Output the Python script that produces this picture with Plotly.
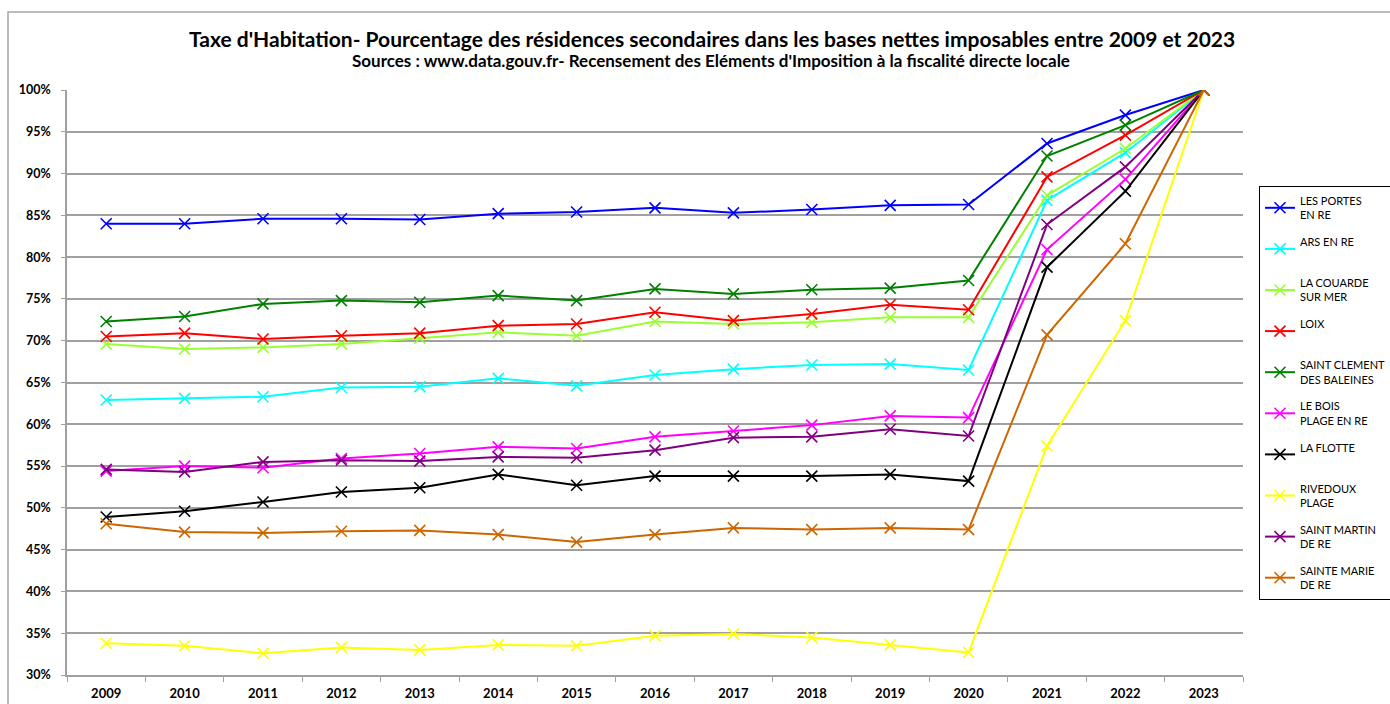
import plotly.graph_objects as go

years = [str(y) for y in range(2009, 2024)]

les_portes = [84.0, 84.0, 84.6, 84.6, 84.5, 85.2, 85.4, 85.9, 85.3, 85.7, 86.2, 86.3, 93.6, 97.0, 100.0]
ars_en_re = [62.9, 63.1, 63.3, 64.4, 64.5, 65.5, 64.6, 65.9, 66.6, 67.1, 67.2, 66.5, 86.8, 92.5, 100.0]
la_couarde = [69.6, 69.0, 69.2, 69.6, 70.3, 71.0, 70.6, 72.3, 72.0, 72.2, 72.8, 72.8, 87.4, 93.0, 100.0]
loix = [70.5, 70.9, 70.2, 70.6, 70.9, 71.8, 72.0, 73.4, 72.4, 73.2, 74.3, 73.7, 89.6, 94.6, 100.0]
saint_clement = [72.3, 72.9, 74.4, 74.8, 74.6, 75.4, 74.8, 76.2, 75.6, 76.1, 76.3, 77.2, 92.1, 95.8, 100.0]
le_bois = [54.4, 55.0, 54.8, 55.9, 56.5, 57.3, 57.1, 58.5, 59.2, 59.9, 61.0, 60.8, 80.9, 89.3, 100.0]
la_flotte = [48.9, 49.6, 50.7, 51.9, 52.4, 54.0, 52.7, 53.8, 53.8, 53.8, 54.0, 53.2, 78.8, 87.9, 100.0]
rivedoux = [33.8, 33.5, 32.6, 33.3, 33.0, 33.6, 33.5, 34.7, 34.9, 34.5, 33.6, 32.7, 57.4, 72.4, 100.0]
saint_martin = [54.6, 54.3, 55.5, 55.7, 55.6, 56.1, 56.0, 56.9, 58.4, 58.5, 59.4, 58.6, 83.9, 90.8, 100.0]
sainte_marie = [48.1, 47.1, 47.0, 47.2, 47.3, 46.8, 45.9, 46.8, 47.6, 47.4, 47.6, 47.4, 70.7, 81.6, 100.0]

series_names = [
    "LES PORTES<br>EN RE", "ARS EN RE<br> ", "LA COUARDE<br>SUR MER", "LOIX<br> ",
    "SAINT CLEMENT<br>DES BALEINES", "LE BOIS<br>PLAGE EN RE", "LA FLOTTE<br> ",
    "RIVEDOUX<br>PLAGE", "SAINT MARTIN<br>DE RE", "SAINTE MARIE<br>DE RE",
]
series_values = [les_portes, ars_en_re, la_couarde, loix, saint_clement,
                 le_bois, la_flotte, rivedoux, saint_martin, sainte_marie]
series_colors = ["#0000FF", "#00FFFF", "#99FF33", "#FF0000", "#008000",
                 "#FF00FF", "#000000", "#FFFF00", "#800080", "#CC6600"]

y_ticks = list(range(30, 101, 5))

fig = go.Figure()
for i, (name, vals, col) in enumerate(zip(series_names, series_values, series_colors)):
    fig.add_trace(go.Scatter(
        x=years, y=vals, name=name, mode="lines+markers",
        line=dict(color=col, width=2),
        marker=dict(symbol="x-thin", size=11, line=dict(color=col, width=1.6)),
        legendgroup=f"g{i}",
    ))

L, R, T, B = 67, 1243, 90, 675
PW, PH = R - L, B - T


def px(x):
    return (x - L) / PW


def py(y):
    return (B - y) / PH


FONT = "Lato, 'Open Sans', sans-serif"
fig.update_layout(
    width=1390, height=704,
    margin=dict(l=L, r=1390 - R, t=T, b=704 - B, autoexpand=False),
    paper_bgcolor="white", plot_bgcolor="white",
    font=dict(family=FONT, color="black"),
    showlegend=True,
    legend=dict(
        x=px(1259), xanchor="left", y=py(186), yanchor="top",
        bordercolor="black", borderwidth=1,
        font=dict(size=11, family=FONT),
        tracegroupgap=9.5, itemwidth=30,
        bgcolor="white",
    ),
    annotations=[
        dict(text="<b>Taxe d'Habitation- Pourcentage des résidences secondaires dans les bases nettes imposables entre 2009 et 2023</b>",
             xref="paper", yref="paper", x=px(712), y=py(38),
             xanchor="center", yanchor="middle", showarrow=False,
             font=dict(size=21, family=FONT)),
        dict(text="<b>Sources : www.data.gouv.fr- Recensement des Eléments d'Imposition à la fiscalité directe locale</b>",
             xref="paper", yref="paper", x=px(711), y=py(61),
             xanchor="center", yanchor="middle", showarrow=False,
             font=dict(size=17, family=FONT)),
    ],
    shapes=[
        dict(type="rect", xref="paper", yref="paper",
             x0=px(8), x1=px(1400), y0=py(720), y1=py(12),
             line=dict(color="#A6A6A6", width=1.5), layer="below"),
    ],
)

fig.update_xaxes(
    type="category", range=[-0.5, 14.5], automargin=False,
    showgrid=False, showline=True, linecolor="#A0A0A0", linewidth=1.5,
    ticks="outside", tickson="boundaries", ticklen=5, tickcolor="#A0A0A0",
    tickfont=dict(size=13, family=FONT), ticklabelstandoff=6,
    tickprefix="<b>", ticksuffix="</b>",
)
fig.update_yaxes(
    range=[30, 100], tickvals=y_ticks, automargin=False,
    ticktext=[f"<b>{v}%</b>" for v in y_ticks],
    showgrid=True, gridcolor="#A0A0A0", gridwidth=1.5,
    showline=True, linecolor="#A0A0A0", linewidth=1.5,
    ticks="outside", ticklen=4, tickcolor="#A0A0A0",
    tickfont=dict(size=12.5, family=FONT), zeroline=False,
    ticklabelstandoff=8,
)

fig.write_html("out.html", config={"displayModeBar": False},
               post_script="document.body.style.margin='0';document.body.style.overflow='hidden';")
